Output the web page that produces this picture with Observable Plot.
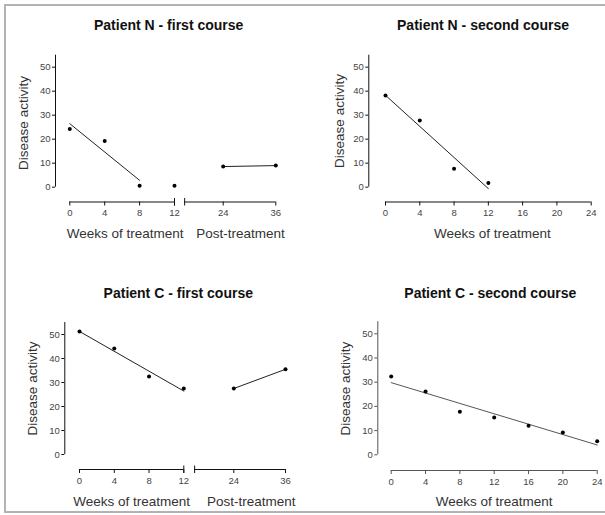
<!DOCTYPE html>
<html>
<head>
<meta charset="utf-8">
<script src="https://cdn.jsdelivr.net/npm/d3@7"></script>
<script src="https://cdn.jsdelivr.net/npm/@observablehq/plot@0.6"></script>
<style>
  body { margin: 0; background: #fff; }
  #fig { position: relative; width: 605px; height: 515px; overflow: hidden; background: #fff; font-family: "Liberation Sans", Arial, sans-serif; }
  .frame { position: absolute; left: 4px; top: 4px; width: 700px; height: 505px; border: 2px solid #b3b3b3; border-right: none; }
  .ttl { position: absolute; width: 300px; text-align: center; font-weight: bold; font-size: 14px; line-height: 16px; color: #111; }
</style>
</head>
<body>
<div id="fig"><div class="frame"></div></div>
<script>
// ---- data ----
const yTicks = [0, 10, 20, 30, 40, 50];
const brokenTicks = [0, 4, 8, 12, 24, 36];
const fullTicks = [0, 4, 8, 12, 16, 20, 24];

const titles = ["Patient N - first course", "Patient N - second course", "Patient C - first course", "Patient C - second course"];
const yTitle = "Disease activity";
const xTitleTreatment = "Weeks of treatment";
const xTitlePost = "Post-treatment";

// Patient N - first course
const nFirstFitWeeks = [0, 4, 8];
const nFirstFitScores = [24.2, 19.2, 0.6];
const nFirstExtraWeeks = [12];
const nFirstExtraScores = [0.6];
const nFirstPostWeeks = [24, 36];
const nFirstPostScores = [8.6, 9.0];

// Patient N - second course
const nSecondWeeks = [0, 4, 8, 12];
const nSecondScores = [38.2, 27.8, 7.7, 1.7];

// Patient C - first course
const cFirstFitWeeks = [0, 4, 8, 12];
const cFirstFitScores = [51.2, 44.2, 32.5, 27.5];
const cFirstPostWeeks = [24, 36];
const cFirstPostScores = [27.5, 35.5];

// Patient C - second course
const cSecondWeeks = [0, 4, 8, 12, 16, 20, 24];
const cSecondScores = [32.4, 26.2, 17.8, 15.4, 12.0, 9.2, 5.6];

const rows = (w, s) => d3.zip(w, s).map(([week, score]) => ({week, score}));

// ---- layout (page pixels) ----
const panels = [
  {
    title: titles[0], tx: 168.7, ty: 25,
    left: 0, top: 40, width: 300, height: 210,
    yAxisX: 55, y0: 186.7, yTop: 54.7, axisLine: 201.5,
    xDomain: [0, 12, 24, 36], xRange: [69.3, 174, 222.7, 275.3],
    ticks: brokenTicks, segments: [[0, 12], [14.5, 36]], breaks: [12, 14.5],
    midLabels: [{x: 6, text: xTitleTreatment}], midDx: 3,
    endLabels: [{x: 36, text: xTitlePost}], endDx: 9,
    yLabelX: 23, yLabelY: 122.5, xLabelY: 232.7,
    fit: rows(nFirstFitWeeks, nFirstFitScores),
    extra: rows(nFirstExtraWeeks, nFirstExtraScores),
    post: rows(nFirstPostWeeks, nFirstPostScores),
    axisColor: "#111", tickText: "#444", labelColor: "#333", lineColor: "#222"
  },
  {
    title: titles[1], tx: 483, ty: 25,
    left: 300, top: 40, width: 305, height: 210,
    yAxisX: 368.3, y0: 186.7, yTop: 54.7, axisLine: 201.5,
    xDomain: [0, 24], xRange: [385, 590.7],
    ticks: fullTicks, segments: [[0, 24]], breaks: [],
    midLabels: [{x: 12, text: xTitleTreatment}], midDx: 4,
    endLabels: [], endDx: 0,
    yLabelX: 339.3, yLabelY: 120.5, xLabelY: 232.7,
    fit: rows(nSecondWeeks, nSecondScores), extra: [], post: [],
    axisColor: "#111", tickText: "#444", labelColor: "#333", lineColor: "#222"
  },
  {
    title: titles[2], tx: 178.3, ty: 292.7,
    left: 0, top: 310, width: 300, height: 205,
    yAxisX: 64.3, y0: 454, yTop: 322, axisLine: 469,
    xDomain: [0, 12, 24, 36], xRange: [79, 183.3, 233.3, 285],
    ticks: brokenTicks, segments: [[0, 12], [14.6, 36]], breaks: [12, 14.6],
    midLabels: [{x: 6, text: xTitleTreatment}], midDx: 0,
    endLabels: [{x: 36, text: xTitlePost}], endDx: 10,
    yLabelX: 32.3, yLabelY: 388, xLabelY: 500.7,
    fit: rows(cFirstFitWeeks, cFirstFitScores), extra: [],
    post: rows(cFirstPostWeeks, cFirstPostScores),
    axisColor: "#111", tickText: "#444", labelColor: "#333", lineColor: "#222"
  },
  {
    title: titles[3], tx: 490.3, ty: 292.7,
    left: 300, top: 310, width: 305, height: 205,
    yAxisX: 377.3, y0: 454.3, yTop: 321.2, axisLine: 470,
    xDomain: [0, 24], xRange: [390.7, 596.7],
    ticks: fullTicks, segments: [[0, 24]], breaks: [],
    midLabels: [{x: 12, text: xTitleTreatment}], midDx: 0,
    endLabels: [], endDx: 0,
    yLabelX: 345, yLabelY: 388.2, xLabelY: 501,
    fit: rows(cSecondWeeks, cSecondScores), extra: [], post: [],
    axisColor: "#555", tickText: "#444", labelColor: "#333", lineColor: "#555"
  }
];

const fig = document.getElementById("fig");

for (const p of panels) {
  const h = p.height;
  const y0 = p.y0 - p.top;
  const yTop = p.yTop - p.top;
  const axisPos = p.axisLine - p.top;
  const mL = p.yAxisX - p.left;
  const mB = h - axisPos;
  const gap = axisPos - y0;
  const xr = p.xRange.map(v => v - p.left);
  const frameMid = (yTop + axisPos) / 2;
  const yLabDx = (p.yLabelX - p.left) - mL;
  const yLabDy = (p.yLabelY - p.top) - frameMid;
  const xLabDy = (p.xLabelY - p.top) - axisPos;
  const allPoints = [...p.fit, ...p.extra, ...p.post];

  const marks = [
    // y axis line (from 0 to 55)
    Plot.ruleX([p.xDomain[0]], {y1: 0, y2: 55, dx: -(xr[0] - mL), stroke: p.axisColor, strokeWidth: 1}),
    Plot.axisY(yTicks, {anchor: "left", tickSize: 3, tickPadding: 2, fontSize: 9.5, stroke: p.axisColor, fill: p.tickText, label: null}),
    // x axis line segments (offset below the data area)
    Plot.ruleY(p.segments, {x1: d => d[0], x2: d => d[1], y: 0, dy: gap, stroke: p.axisColor, strokeWidth: 1}),
    Plot.ruleX(p.breaks, {x: d => d, y1: 0, y2: 0, insetTop: -3.5, insetBottom: -4, dy: gap, stroke: p.axisColor, strokeWidth: 1}),
    Plot.axisX(p.ticks, {anchor: "bottom", tickSize: 4, tickPadding: 3.5, fontSize: 9.5, stroke: p.axisColor, fill: p.tickText, label: null}),
    // axis titles
    Plot.text([yTitle], {text: d => d, frameAnchor: "left", textAnchor: "middle", lineAnchor: "middle", rotate: -90, dx: yLabDx, dy: yLabDy, fontSize: 13.5, fill: p.labelColor}),
    Plot.text(p.midLabels, {x: "x", text: "text", textAnchor: "middle", lineAnchor: "middle", frameAnchor: "bottom", dx: p.midDx, dy: xLabDy, fontSize: 13.5, fill: p.labelColor}),
    Plot.text(p.endLabels, {x: "x", text: "text", textAnchor: "end", lineAnchor: "middle", frameAnchor: "bottom", dx: p.endDx, dy: xLabDy, fontSize: 13.5, fill: p.labelColor}),
    // regression line
    Plot.linearRegressionY(p.fit, {x: "week", y: "score", ci: 0, stroke: p.lineColor, strokeWidth: 1}),
    // post-treatment line
    Plot.line(p.post, {x: "week", y: "score", stroke: p.lineColor, strokeWidth: 1}),
    Plot.dot(allPoints, {x: "week", y: "score", r: 2, fill: "#000", stroke: "none"})
  ];

  const svg = Plot.plot({
    width: p.width,
    height: h,
    marginLeft: mL,
    marginTop: yTop,
    marginRight: 0,
    marginBottom: mB,
    x: {type: "linear", domain: p.xDomain, range: xr},
    y: {type: "linear", domain: [0, 55], range: [y0, yTop]},
    style: {fontFamily: '"Liberation Sans", Arial, sans-serif', background: "transparent", overflow: "visible", color: "#111"},
    marks
  });
  svg.style.position = "absolute";
  svg.style.left = p.left + "px";
  svg.style.top = p.top + "px";
  fig.appendChild(svg);

  const t = document.createElement("div");
  t.className = "ttl";
  t.textContent = p.title;
  t.style.left = (p.tx - 150) + "px";
  t.style.top = (p.ty - 8) + "px";
  fig.appendChild(t);
}
</script>
</body>
</html>
